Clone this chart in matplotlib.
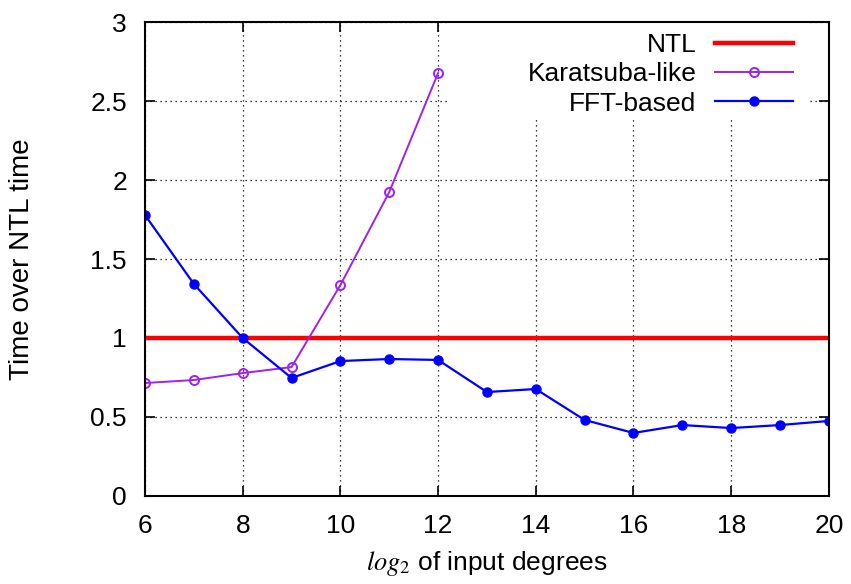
import matplotlib
matplotlib.use("Agg")
import matplotlib.pyplot as plt
from matplotlib.patches import Rectangle

plt.rcParams['font.family'] = ['Liberation Sans', 'DejaVu Sans']
plt.rcParams['mathtext.fontset'] = 'stix'

degrees = [6, 7, 8, 9, 10, 11, 12, 13, 14, 15, 16, 17, 18, 19, 20]
ntl = [1.0] * len(degrees)
kara_deg = [6, 7, 8, 9, 10, 11, 12]
karatsuba = [0.715, 0.734, 0.778, 0.816, 1.335, 1.924, 2.677]
fft = [1.778, 1.342, 1.0, 0.747, 0.854, 0.867, 0.861, 0.658, 0.677,
       0.481, 0.399, 0.449, 0.43, 0.449, 0.475]

fig = plt.figure(figsize=(8.51, 5.84), dpi=100)
ax = fig.add_axes([0.1704, 0.1507, 0.8036, 0.8116])

ax.plot(degrees, ntl, color='#ff0000', lw=3.2, label='NTL')
ax.plot(kara_deg, karatsuba, color='#a020f0', lw=1.4, marker='o', ms=6.5,
        mfc='none', mew=1.4, label='Karatsuba-like')
ax.plot(degrees, fft, color='#0000ff', lw=1.6, marker='o', ms=6.5,
        label='FFT-based')

ax.set_xlim(6, 20)
ax.set_ylim(0, 3)
ax.set_xticks(range(6, 21, 2))
ax.set_yticks([0, 0.5, 1, 1.5, 2, 2.5, 3])
ax.set_yticklabels(['0', '0.5', '1', '1.5', '2', '2.5', '3'])
ax.grid(True, color='black', linestyle=(0, (1, 3)), lw=0.9)
ax.set_axisbelow(True)
ax.tick_params(direction='in', top=True, right=True, length=7, width=1.2,
               labelsize=19, pad=13)
for s in ax.spines.values():
    s.set_linewidth(1.5)

ax.set_xlabel(r'$\mathit{log}_2$ of input degrees', fontsize=19, labelpad=8)
ax.set_ylabel('Time over NTL time', fontsize=20, labelpad=40)

# white key area hiding the grid, gnuplot style
ax.add_patch(Rectangle((0.445, 0.797), 0.525, 0.203, transform=ax.transAxes,
                       facecolor='white', edgecolor='none', zorder=1))

leg = ax.legend(loc='upper right', bbox_to_anchor=(0.9628, 0.999),
                borderaxespad=0, fontsize=19, markerfirst=False,
                frameon=False, handlelength=2.95, handletextpad=0.7,
                labelspacing=0.2)
for t in leg.get_texts():
    t.set_ha('right')
leg._legend_box.align = 'right'

fig.savefig('out.png', dpi=100)
